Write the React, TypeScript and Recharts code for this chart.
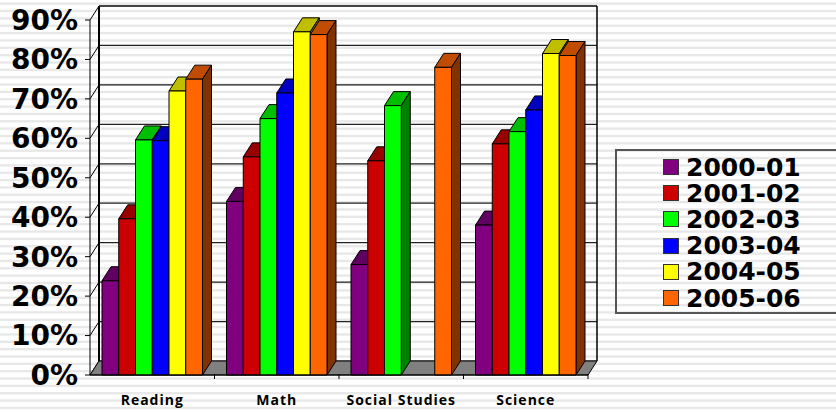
import React from 'react';
import { BarChart, Bar, XAxis, YAxis, CartesianGrid, Legend, ReferenceArea } from 'recharts';

const subjects = ['Reading', 'Math', 'Social Studies', 'Science'];
const years = ['2000-01', '2001-02', '2002-03', '2003-04', '2004-05', '2005-06'];
const y2000 = [23.9, 44, 28, 38];
const y2001 = [39.6, 55.3, 54.3, 58.6];
const y2002 = [59.6, 65, 68.3, 61.7];
const y2003 = [59.4, 71.5, null, 67.2];
const y2004 = [72, 87, null, 81.5];
const y2005 = [75, 86.3, 78, 81];
const seriesValues = [y2000, y2001, y2002, y2003, y2004, y2005];
const fronts = ['#800080', '#cc0000', '#00ff00', '#0000ff', '#ffff00', '#ff6600'];
const tops = ['#600060', '#990000', '#00bf00', '#0000bf', '#bfbf00', '#bf4c00'];
const sides = ['#400040', '#660000', '#008000', '#000080', '#808000', '#803300'];
const yTicks = [0, 10, 20, 30, 40, 50, 60, 70, 80, 90];

const data = subjects.map((subject, i) => {
  const row: Record<string, string | number | null> = { subject };
  years.forEach((year, s) => {
    row[year] = seriesValues[s][i];
  });
  return row;
});

// how far the back wall sits from the front of the chart
const DX = 9;
const DY = -14;
const FONT = '"DejaVu Sans", sans-serif';

const Bar3D = (props: any) => {
  const { x, y, width, height, index } = props;
  const s = props.colorIndex;
  if (height == null || height <= 0) return null;
  return (
    <g key={index} stroke="#000" strokeWidth={1} strokeLinejoin="round">
      <polygon fill={tops[s]} points={`${x},${y} ${x + DX},${y + DY} ${x + width + DX},${y + DY} ${x + width},${y}`} />
      <polygon fill={sides[s]} points={`${x + width},${y} ${x + width + DX},${y + DY} ${x + width + DX},${y + height + DY} ${x + width},${y + height}`} />
      <rect x={x} y={y} width={width} height={height} fill={fronts[s]} />
    </g>
  );
};

const Walls = (props: any) => {
  const { x, y, width, height } = props;
  const bottom = y + height;
  return (
    <g>
      <polygon
        fill="#808080"
        stroke="#000"
        points={`${x},${bottom} ${x + DX},${bottom + DY} ${x + width + DX},${bottom + DY} ${x + width},${bottom}`}
      />
      <line x1={x + DX} y1={y + DY} x2={x + DX} y2={bottom + DY} stroke="#000" strokeWidth={2} />
      <line x1={x + width + DX} y1={y + DY} x2={x + width + DX} y2={bottom + DY} stroke="#000" strokeWidth={1.5} />
    </g>
  );
};

const WallLine = (props: any) => {
  const { x1, x2, y1, index } = props;
  const isTop = y1 < 25;
  return (
    <g key={index}>
      <line x1={x1} y1={y1} x2={x1 + DX} y2={y1 + DY} stroke="#000" />
      <line
        x1={x1 + DX}
        y1={y1 + DY}
        x2={x2 + DX}
        y2={y1 + DY}
        stroke={isTop ? '#444' : '#222'}
        strokeWidth={isTop ? 2 : 1.2}
      />
    </g>
  );
};

const SubjectTick = (props: any) => {
  const { x, y, payload, index } = props;
  const step = 124.5;
  return (
    <g key={index}>
      <line x1={x + step / 2} y1={y - 3} x2={x + step / 2} y2={y + 2} stroke="#000" />
      <text x={x} y={y + 28} textAnchor="middle" fontFamily='"Open Sans", sans-serif' fontWeight="bold" fontSize={14} letterSpacing={1} fill="#000">
        {payload.value}
      </text>
    </g>
  );
};

const YearLegend = () => (
  <div
    style={{
      width: 240,
      height: 165,
      boxSizing: 'border-box',
      border: '2px solid #555',
      paddingLeft: 46,
      paddingTop: 3,
    }}
  >
    {years.map((year, s) => (
      <div key={year} style={{ display: 'flex', alignItems: 'center', height: 26.2 }}>
        <span style={{ width: 14, height: 14, background: fronts[s], border: '1px solid #333', marginRight: 7 }} />
        <span style={{ fontFamily: FONT, fontWeight: 'bold', fontSize: 25, color: '#000' }}>{year}</span>
      </div>
    ))}
  </div>
);

export default function App() {
  return (
    <div
      style={{
        position: 'absolute',
        left: 0,
        top: 0,
        width: 836,
        height: 414,
        overflow: 'hidden',
        background: 'repeating-linear-gradient(to bottom, #ffffff 0px, #ffffff 2px, #e8e8e8 3px, #e8e8e8 4.4px, #ffffff 5.4px, #ffffff 7.35px)',
      }}
    >
      <BarChart
        width={836}
        height={414}
        data={data}
        barGap={0}
        barSize={16.75}
        margin={{ top: 20, right: 248, bottom: 9, left: 0 }}
      >
        <ReferenceArea y1={0} y2={90} shape={<Walls />} ifOverflow="visible" />
        <CartesianGrid vertical={false} horizontal={(p: any) => <WallLine {...p} />} />
        <XAxis
          dataKey="subject"
          interval={0}
          axisLine={{ stroke: '#000' }}
          tickLine={false}
          tickSize={0}
          tick={<SubjectTick />}
        />
        <YAxis
          width={90}
          domain={[0, 90]}
          ticks={yTicks}
          interval={0}
          tickFormatter={(v: number) => `${v}%`}
          axisLine={{ stroke: '#000' }}
          tickLine={{ stroke: '#000' }}
          tickSize={5}
          tickMargin={7}
          tick={{ fontFamily: FONT, fontWeight: 'bold', fontSize: 28, fill: '#000' }}
        />
        <Legend
          layout="horizontal"
          verticalAlign="middle"
          align="center"
          content={<YearLegend />}
          wrapperStyle={{ left: 615, top: 149, width: 240, margin: 0 }}
        />
        {years.map((year, s) => (
          <Bar
            key={year}
            dataKey={year}
            name={year}
            fill={fronts[s]}
            isAnimationActive={false}
            shape={(p: any) => <Bar3D {...p} colorIndex={s} />}
          />
        ))}
      </BarChart>
    </div>
  );
}
